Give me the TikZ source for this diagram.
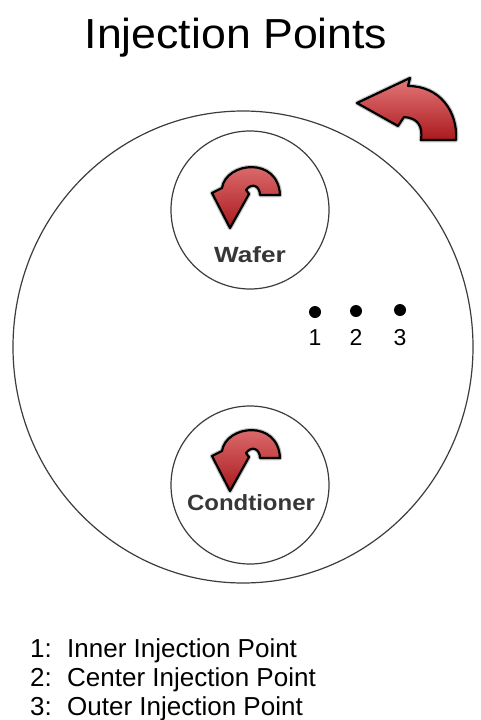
\documentclass[tikz,border=0pt]{standalone}
\usepackage{fontspec}
\setmainfont{Liberation Sans}
\usetikzlibrary{shapes.geometric}
\definecolor{linegray}{RGB}{60,60,60}
\definecolor{textgray}{RGB}{55,55,55}
\definecolor{arrlight}{RGB}{228,120,120}
\definecolor{arrdark}{RGB}{170,25,30}
\tikzset{
  ring/.style={circle, draw=linegray, line width=1.2pt, minimum size=158pt, inner sep=0pt},
  arrowshape/.style={draw=black, line width=2.2pt, line join=round, top color=arrlight, bottom color=arrdark,
    preaction={draw=gray!45, line width=4.5pt, line join=round}},
  dotmark/.style={circle, fill=black, minimum size=12pt, inner sep=0pt},
  numlabel/.style={anchor=base, font=\fontsize{23}{26}\selectfont, inner sep=0pt},
  legendline/.style={anchor=base west, font=\fontsize{26}{30}\selectfont, inner sep=0pt},
  curlarrow/.pic={
    \draw[arrowshape] (-36,-3) -- (-26,-8) .. controls (-22,-34) and (30,-40) .. (32,-1)
      -- (12,-1) .. controls (12,-10) and (4,-14) .. (-2,-6) -- (1,-2) -- (-18,32) -- cycle;
  }
}
\begin{document}
\begin{tikzpicture}[x=1pt,y=-1pt]
\useasboundingbox (0,0) rectangle (480,720);
\fill[white] (0,0) rectangle (480,720);
% title
\node[anchor=base, inner sep=0pt, xscale=1.063, font=\fontsize{42}{50}\selectfont] (title) at (236,48) {Injection Points};
% platen
\node[ellipse, draw=linegray, line width=1.2pt, minimum width=460pt, minimum height=472pt, inner sep=0pt] (platen) at (243,347) {};
% wafer
\node[ring] (wafer) at (250,210) {};
\pic at (248,196) {curlarrow};
\node[anchor=base, inner sep=0pt, text=textgray, font=\bfseries\fontsize{22}{26}\selectfont, xscale=1.19] (wafertext) at (250,262) {Wafer};
% conditioner
\node[ring] (cond) at (250,485) {};
\pic at (248,459) {curlarrow};
\node[anchor=base, inner sep=0pt, text=textgray, font=\bfseries\fontsize{22}{26}\selectfont, xscale=1.09] (condtext) at (251,510) {Condtioner};
% platen rotation arrow
\draw[arrowshape] (357,103) -- (410,78) -- (408,86) .. controls (440,86) and (458,112) .. (456,140)
  -- (421,140) .. controls (423,126) and (418,118) .. (404,117) -- (398,126) -- cycle;
% injection points
\node[dotmark] (p1) at (315,312) {};
\node[dotmark] (p2) at (356,311) {};
\node[dotmark] (p3) at (400,310) {};
\node[numlabel] (n1) at (315,345) {1};
\node[numlabel] (n2) at (356,345) {2};
\node[numlabel] (n3) at (400,345) {3};
% legend
\node[legendline] (l1) at (30,657) {\makebox[37pt][l]{1:}Inner Injection Point};
\node[legendline] (l2) at (30,686) {\makebox[37pt][l]{2:}Center Injection Point};
\node[legendline] (l3) at (30,715) {\makebox[37pt][l]{3:}Outer Injection Point};
\end{tikzpicture}
\end{document}
